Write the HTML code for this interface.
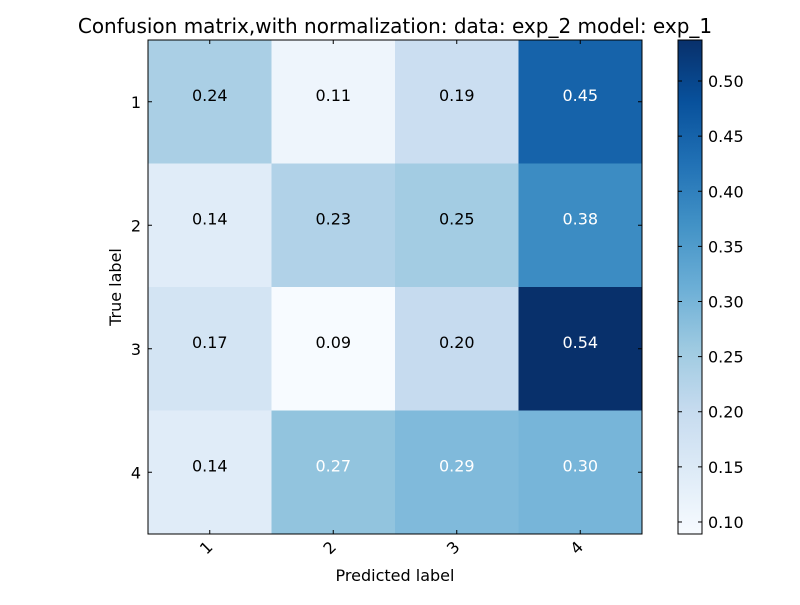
<!DOCTYPE html>
<html><head><meta charset="utf-8"><style>
body{margin:0;background:#fff;}
svg text{font-family:"DejaVu Sans","Liberation Sans",sans-serif;}
</style></head><body>
<svg id="chart" width="800" height="600" xmlns="http://www.w3.org/2000/svg">
<defs>
<linearGradient id="cbgrad" x1="0" y1="1" x2="0" y2="0">
<stop offset="0" stop-color="#f7fbff"/><stop offset="0.125" stop-color="#deebf7"/><stop offset="0.25" stop-color="#c6dbef"/><stop offset="0.375" stop-color="#9ecae1"/><stop offset="0.5" stop-color="#6baed6"/><stop offset="0.625" stop-color="#4292c6"/><stop offset="0.75" stop-color="#2171b5"/><stop offset="0.875" stop-color="#08519c"/><stop offset="1" stop-color="#08306b"/>
</linearGradient>
</defs>
<text x="395" y="33" font-size="20" text-anchor="middle">Confusion matrix,with normalization: data: exp_2 model: exp_1</text>
<g id="cells"></g>
<rect x="148" y="40" width="494" height="494" fill="none" stroke="#000" stroke-width="1"/>
<g id="axes"></g>
<text x="395" y="581" font-size="16" text-anchor="middle">Predicted label</text>
<text x="121" y="287" font-size="16" text-anchor="middle" transform="rotate(-90 121 287)">True label</text>
<rect x="678" y="40" width="24" height="494" fill="url(#cbgrad)" stroke="#000" stroke-width="1"/>
<g id="cbticks"></g>
</svg>
<script>
const labels = ["1","2","3","4"];
const values = [
 [0.24,0.11,0.19,0.45],
 [0.14,0.23,0.25,0.38],
 [0.17,0.09,0.20,0.54],
 [0.14,0.27,0.29,0.30]
];
const cbTicks = [0.10,0.15,0.20,0.25,0.30,0.35,0.40,0.45,0.50];
const vmin = 0.0891, vmax = 0.5372;
const NS="http://www.w3.org/2000/svg";
const blues=["#f7fbff","#deebf7","#c6dbef","#9ecae1","#6baed6","#4292c6","#2171b5","#08519c","#08306b"];
function hx(c){return [1,3,5].map(i=>parseInt(c.substr(i,2),16));}
function cmap(v){let t=Math.max(0,Math.min(1,(v-vmin)/(vmax-vmin)))*8;let i=Math.min(7,Math.floor(t)),f=t-i;
 const a=hx(blues[i]),b=hx(blues[i+1]);return "rgb("+a.map((x,k)=>Math.round(x+(b[k]-x)*f)).join(",")+")";}
const x0=148,y0=40,W=494,n=labels.length,cw=W/n;
const xs=j=>x0+j*cw, ys=i=>y0+i*cw;
const cbY=v=>534-(v-vmin)/(vmax-vmin)*494;
function mk(tag,attrs,parent){const e=document.createElementNS(NS,tag);for(const k in attrs)e.setAttribute(k,attrs[k]);parent.appendChild(e);return e;}
const cells=document.getElementById("cells"),axes=document.getElementById("axes"),cb=document.getElementById("cbticks");
const thresh=Math.max(...values.flat())/2;
values.forEach((row,i)=>row.forEach((v,j)=>{
 const r=mk("rect",{x:xs(j),y:ys(i),width:cw+0.5,height:cw+0.5,fill:cmap(v)},cells);
 
 
 const t=mk("text",{x:xs(j)+cw/2,y:ys(i)+cw/2-1,"font-size":16,"text-anchor":"middle",fill:v>thresh-0.005?"#fff":"#000"},cells);
 t.textContent=v.toFixed(2);
 
 
}));
labels.forEach((l,k)=>{
 const cx=xs(k)+cw/2, cy=ys(k)+cw/2;
 mk("line",{x1:cx,y1:534,x2:cx,y2:530,stroke:"#000"},axes);
 mk("line",{x1:cx,y1:40,x2:cx,y2:44,stroke:"#000"},axes);
 mk("line",{x1:148,y1:cy,x2:152,y2:cy,stroke:"#000"},axes);
 mk("line",{x1:642,y1:cy,x2:638,y2:cy,stroke:"#000"},axes);
 const tx=mk("text",{x:cx+4,y:548,"font-size":16,"text-anchor":"end",transform:"rotate(-45 "+(cx+4)+" 548)"},axes);
 tx.textContent=l;
 
 
 const ty=mk("text",{x:141,y:cy+6,"font-size":16,"text-anchor":"end"},axes);
 ty.textContent=l;
 
 
});
cbTicks.forEach(v=>{
 const y=cbY(v);
 mk("line",{x1:702,y1:y,x2:698,y2:y,stroke:"#000"},cb);
 mk("line",{x1:678,y1:y,x2:682,y2:y,stroke:"#000"},cb);
 const t=mk("text",{x:708,y:y+6,"font-size":16},cb);
 t.textContent=v.toFixed(2);
 
 
});
</script>
</body></html>
